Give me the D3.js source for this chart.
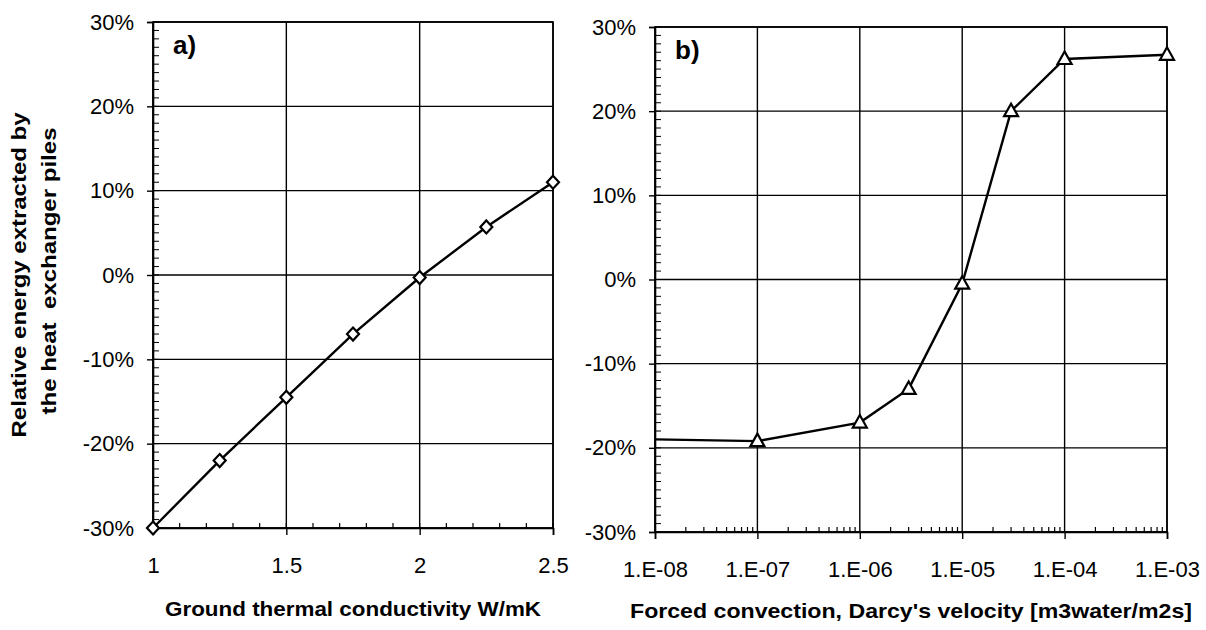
<!DOCTYPE html>
<html>
<head>
<meta charset="utf-8">
<script src="https://cdn.jsdelivr.net/npm/d3@7"></script>
<style>
  body { margin: 0; background: #fff; }
  text { font-family: "Liberation Sans", Arial, sans-serif; fill: #000; }
</style>
</head>
<body>
<svg id="chart" width="1206" height="630"></svg>
<script>
// panel a) ground thermal conductivity
const condX = [1, 1.25, 1.5, 1.75, 2, 2.25, 2.5];
const condY = [-30, -22, -14.5, -7, -0.3, 5.7, 11];

// panel b) Darcy's velocity
const darcyX = [1e-8, 1e-7, 1e-6, 3e-6, 1e-5, 3e-5, 1e-4, 1e-3];
const darcyY = [-19, -19.2, -17, -13, -0.5, 20, 26.2, 26.7];

const yTicks = [-30, -20, -10, 0, 10, 20, 30];
const condTicks = [1, 1.5, 2, 2.5];
const darcyTicks = [1e-8, 1e-7, 1e-6, 1e-5, 1e-4, 1e-3];

const svg = d3.select("#chart");

function panel(opt) {
    const g = svg.append("g");
    const x = opt.x, y = opt.y;
    const [x0, x1] = x.range();
    const [y0, y1] = y.range();

    // grid
    g.selectAll(".hg").data(yTicks).enter().append("line")
        .attr("x1", x0).attr("x2", x1)
        .attr("y1", d => y(d)).attr("y2", d => y(d))
        .attr("stroke", "#000").attr("stroke-width", 1.4);
    g.selectAll(".vg").data(opt.xTicks).enter().append("line")
        .attr("x1", d => x(d)).attr("x2", d => x(d))
        .attr("y1", y0).attr("y2", y1)
        .attr("stroke", "#000").attr("stroke-width", 1.4);

    // minor y ticks (inside)
    g.selectAll(".my").data(d3.range(-30, 31, 1)).enter().append("line")
        .attr("x1", x0).attr("x2", x0 + 6)
        .attr("y1", d => y(d)).attr("y2", d => y(d))
        .attr("stroke", "#000").attr("stroke-width", 1);
    // minor x ticks (inside)
    g.selectAll(".mx").data(opt.minorX).enter().append("line")
        .attr("x1", d => x(d)).attr("x2", d => x(d))
        .attr("y1", y0).attr("y2", y0 - 5)
        .attr("stroke", "#000").attr("stroke-width", 1.2);

    // axes
    g.append("g").attr("transform", `translate(${x0},0)`)
        .call(d3.axisLeft(y).tickValues(yTicks).tickFormat(d => d + "%").tickSize(6).tickPadding(13))
        .call(a => a.select(".domain").attr("stroke-width", 1.6))
        .call(a => a.selectAll("line").attr("stroke-width", 1.4))
        .selectAll("text").style("font-size", "22px");
    g.append("g").attr("transform", `translate(0,${y0})`)
        .call(d3.axisBottom(x).tickValues(opt.xTicks).tickFormat(opt.fmt).tickSize(7).tickPadding(22))
        .call(a => a.select(".domain").attr("stroke-width", 1.6))
        .call(a => a.selectAll("line").attr("stroke-width", 1.4))
        .selectAll("text").style("font-size", "22px");

    // frame
    g.append("rect").attr("x", x0).attr("y", y1)
        .attr("width", x1 - x0).attr("height", y0 - y1)
        .attr("fill", "none").attr("stroke", "#000").attr("stroke-width", 1.6);

    // series
    const pts = opt.xs.map((v, i) => [v, opt.ys[i]]);
    g.append("path")
        .datum(pts)
        .attr("fill", "none").attr("stroke", "#000").attr("stroke-width", 2.4)
        .attr("d", d3.line().x(d => x(d[0])).y(d => y(d[1])));

    g.selectAll(".pt").data(pts.slice(opt.skip))
        .enter().append("path")
        .attr("transform", d => `translate(${x(d[0])},${y(d[1])})`)
        .attr("d", opt.marker)
        .attr("fill", "#fff").attr("stroke", "#000").attr("stroke-width", 2.2);

    g.append("text").attr("x", x0 + 20).attr("y", y1 + 32)
        .style("font-size", "26px").style("font-weight", "bold").text(opt.tag);

    g.append("text").attr("x", opt.titleX).attr("y", opt.titleY)
        .attr("text-anchor", "middle")
        .attr("textLength", opt.titleLen).attr("lengthAdjust", "spacingAndGlyphs")
        .style("font-size", "21px").style("font-weight", "bold").text(opt.title);
}

const diamond = "M0,-6.5L6,0L0,6.5L-6,0Z";
const triangle = "M0,-7.5L7,5L-7,5Z";

const xCond = d3.scaleLinear().domain([1, 2.5]).range([153, 553]);
const yA = d3.scaleLinear().domain([-30, 30]).range([528, 22]);
panel({
    x: xCond, y: yA, xTicks: condTicks,
    minorX: d3.range(1, 2.5001, 0.1),
    fmt: d => d, xs: condX, ys: condY, skip: 0,
    marker: diamond, tag: "a)",
    title: "Ground thermal conductivity W/mK", titleX: 353, titleY: 616, titleLen: 376
});

const xDarcy = d3.scaleLog().domain([1e-8, 1e-3]).range([655, 1167]);
const yB = d3.scaleLinear().domain([-30, 30]).range([532, 27]);
const minorLog = [];
darcyTicks.slice(0, -1).forEach(t => d3.range(2, 10).forEach(k => minorLog.push(t * k)));
panel({
    x: xDarcy, y: yB, xTicks: darcyTicks,
    minorX: minorLog,
    fmt: d => "1.E-" + String(-Math.round(Math.log10(d))).padStart(2, "0"),
    xs: darcyX, ys: darcyY, skip: 1,
    marker: triangle, tag: "b)",
    title: "Forced convection, Darcy's velocity [m3water/m2s]", titleX: 911, titleY: 618, titleLen: 562
});

// shared y title
const yTitle = [
    { t: "Relative energy extracted by", x: 26, y: 275, len: 325 },
    { t: "the heat  exchanger piles", x: 56, y: 271, len: 287 }
];
svg.selectAll(".yt").data(yTitle).enter().append("text")
    .attr("transform", d => `translate(${d.x},${d.y}) rotate(-90)`)
    .attr("text-anchor", "middle")
    .attr("textLength", d => d.len).attr("lengthAdjust", "spacingAndGlyphs")
    .style("font-size", "21px").style("font-weight", "bold")
    .style("white-space", "pre")
    .text(d => d.t);
</script>
</body>
</html>
